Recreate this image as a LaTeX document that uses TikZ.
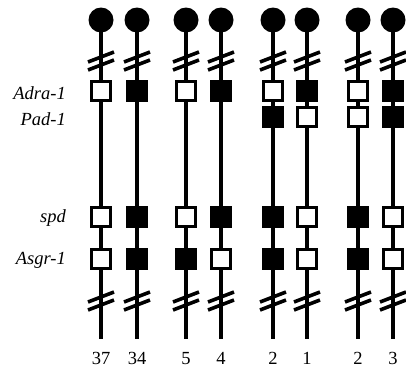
\documentclass[tikz,border=0pt]{standalone}
\usepackage{fontspec}
\setmainfont{Liberation Serif}
\begin{document}
\begin{tikzpicture}[x=1pt,y=-1pt,
  chrom/.style={line width=4.2pt},
  cen/.style={circle,fill=black,minimum size=25pt,inner sep=0pt},
  boxo/.style={draw=black,fill=white,line width=3pt,minimum size=19pt,inner sep=0pt},
  boxf/.style={draw=black,fill=black,line width=3pt,minimum size=19pt,inner sep=0pt},
  brk/.style={line width=3.6pt},
  lab/.style={font=\fontsize{18.5}{18.5}\selectfont\itshape,anchor=base east,inner sep=0pt},
  num/.style={font=\fontsize{18.5}{18.5}\selectfont,anchor=base,inner sep=0pt}]
\useasboundingbox (0,0) rectangle (406,370);
\node[lab] (adra) at (66,99) {Adra-1};
\node[lab] (pad) at (66,125) {Pad-1};
\node[lab] (spd) at (66,222) {spd};
\node[lab] (asgr) at (66,264) {Asgr-1};
\foreach \i/\x/\a/\p/\s/\g/\n in {1/101/o/n/o/o/37,2/137/f/n/f/f/34,3/186/o/n/o/f/5,4/221/f/n/f/o/4,5/273/o/f/f/f/2,6/307/f/o/o/o/1,7/358/o/o/f/f/2,8/393/f/f/o/o/3}{
  \node[cen] (c\i) at (\x,20) {};
  \coordinate (e\i) at (\x,339);
  \coordinate (u\i) at (\x,61);
  \coordinate (l\i) at (\x,301);
  \draw[chrom] (c\i.center) -- (e\i);
  \node[box\a] (a\i) at (\x,91) {};
  \if n\p\else\node[box\p] (p\i) at (\x,117) {};\fi
  \node[box\s] (s\i) at (\x,217) {};
  \node[box\g] (g\i) at (\x,259) {};
  \draw[brk] ([shift={(-13,1)}]u\i) -- ([shift={(13,-9)}]u\i);
  \draw[brk] ([shift={(-13,9)}]u\i) -- ([shift={(13,-1)}]u\i);
  \draw[brk] ([shift={(-13,1)}]l\i) -- ([shift={(13,-9)}]l\i);
  \draw[brk] ([shift={(-13,9)}]l\i) -- ([shift={(13,-1)}]l\i);
  \node[num] (n\i) at (\x,364) {\n};
}
\end{tikzpicture}
\end{document}
